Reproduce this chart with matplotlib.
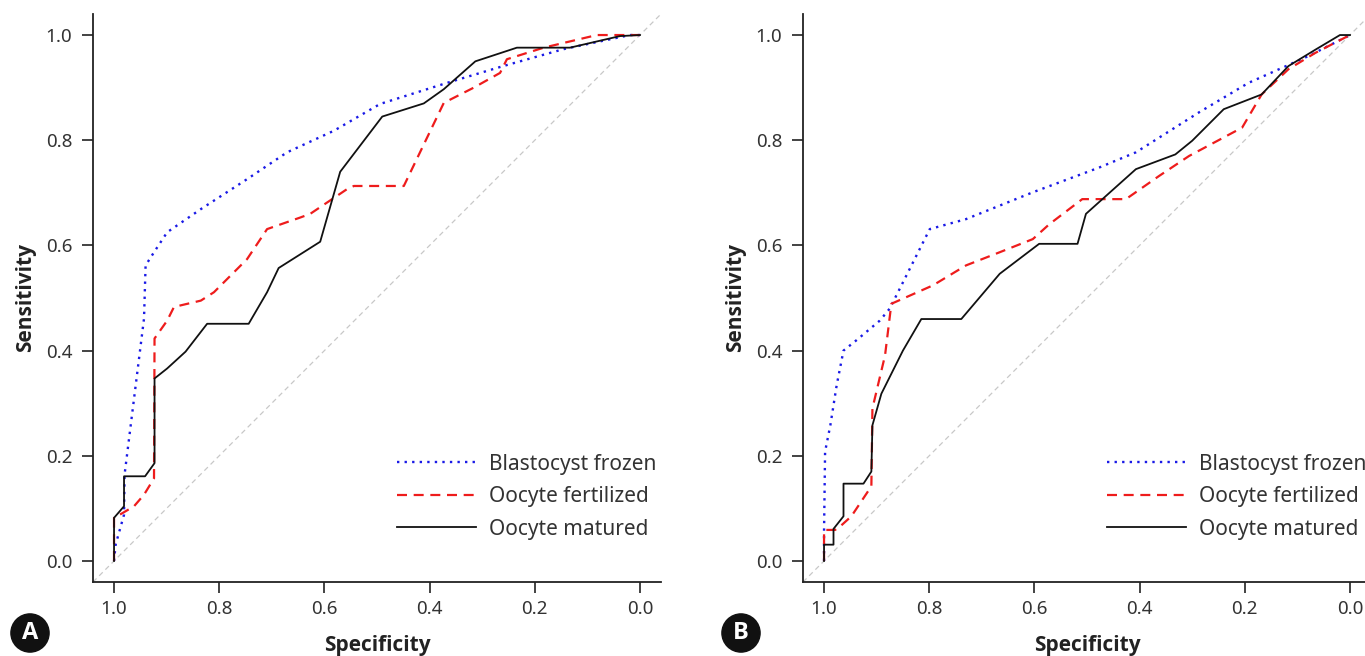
import matplotlib
matplotlib.use("Agg")
import matplotlib.pyplot as plt

plt.rcParams["font.family"] = ["Noto Sans", "DejaVu Sans"]

# ---- Panel A: ROC curves (specificity, sensitivity) ----
a_blast_spec = [1.0, 0.997, 0.981, 0.980, 0.943, 0.940, 0.924, 0.899, 0.835, 0.747,
                0.671, 0.582, 0.494, 0.367, 0.260, 0.146, 0.019, 0.0]
a_blast_sens = [0.0, 0.031, 0.088, 0.164, 0.461, 0.562, 0.587, 0.625, 0.669, 0.726,
                0.777, 0.818, 0.869, 0.909, 0.941, 0.973, 1.0, 1.0]

a_fert_spec = [1.0, 1.0, 0.984, 0.962, 0.943, 0.924, 0.923, 0.899, 0.886, 0.835, 0.810,
               0.747, 0.709, 0.646, 0.627, 0.557, 0.544, 0.449, 0.373, 0.316, 0.266,
               0.253, 0.183, 0.082, 0.0]
a_fert_sens = [0.0, 0.082, 0.091, 0.104, 0.126, 0.157, 0.423, 0.457, 0.483, 0.495, 0.511,
               0.574, 0.631, 0.653, 0.660, 0.707, 0.713, 0.713, 0.871, 0.900, 0.928,
               0.954, 0.976, 1.0, 1.0]

a_mat_spec = [1.0, 1.0, 0.981, 0.981, 0.941, 0.923, 0.923, 0.899, 0.864, 0.823, 0.744,
              0.709, 0.687, 0.608, 0.570, 0.490, 0.411, 0.373, 0.313, 0.234, 0.133,
              0.038, 0.0]
a_mat_sens = [0.0, 0.082, 0.104, 0.161, 0.161, 0.186, 0.347, 0.366, 0.398, 0.451, 0.451,
              0.511, 0.557, 0.607, 0.740, 0.845, 0.870, 0.897, 0.950, 0.976, 0.976,
              0.998, 1.0]

# ---- Panel B ----
b_blast_spec = [1.0, 1.0, 0.998, 0.988, 0.976, 0.963, 0.938, 0.894, 0.875, 0.799, 0.730,
                0.603, 0.477, 0.407, 0.287, 0.193, 0.079, 0.0]
b_blast_sens = [0.0, 0.056, 0.208, 0.258, 0.334, 0.400, 0.420, 0.457, 0.480, 0.631, 0.650,
                0.701, 0.748, 0.777, 0.853, 0.909, 0.960, 1.0]

b_fert_spec = [1.0, 1.0, 0.979, 0.969, 0.948, 0.910, 0.908, 0.884, 0.872, 0.793, 0.730,
               0.666, 0.603, 0.572, 0.509, 0.426, 0.363, 0.306, 0.205, 0.168, 0.117,
               0.066, 0.0]
b_fert_sens = [0.0, 0.059, 0.059, 0.066, 0.085, 0.142, 0.290, 0.391, 0.489, 0.524, 0.562,
               0.587, 0.612, 0.640, 0.688, 0.688, 0.732, 0.770, 0.824, 0.887, 0.935,
               0.966, 1.0]

b_mat_spec = [1.0, 1.0, 0.982, 0.982, 0.963, 0.963, 0.925, 0.910, 0.908, 0.891, 0.850,
              0.815, 0.739, 0.666, 0.591, 0.518, 0.502, 0.407, 0.332, 0.300, 0.240,
              0.168, 0.117, 0.066, 0.019, 0.0]
b_mat_sens = [0.0, 0.031, 0.031, 0.061, 0.085, 0.147, 0.147, 0.170, 0.258, 0.318, 0.400,
              0.460, 0.460, 0.546, 0.603, 0.603, 0.660, 0.745, 0.773, 0.799, 0.859,
              0.887, 0.941, 0.972, 1.0, 1.0]

labels = ["Blastocyst frozen", "Oocyte fertilized", "Oocyte matured"]
ticks = [0.0, 0.2, 0.4, 0.6, 0.8, 1.0]
tick_labels = ["0.0", "0.2", "0.4", "0.6", "0.8", "1.0"]

W, H = 1365, 656
fig = plt.figure(figsize=(W / 100, H / 100), dpi=100)

bold_font = ["Open Sans", "DejaVu Sans"]


def draw_panel(ax, curves, letter, letter_x):

    ax.plot([1.04, -0.04], [-0.04, 1.04], color="#c8c8c8",
            linestyle=(0, (4, 3)), linewidth=0.9, zorder=1)

    styles = [
        dict(color="#1a1ae6", linestyle=(0, (1, 2.2)), linewidth=1.7),
        dict(color="#ee1c1c", linestyle=(0, (4.5, 3)), linewidth=1.6),
        dict(color="#111111", linestyle="-", linewidth=1.3),
    ]

    handles = []
    for (xs, ys), st, lab in zip(curves, styles, labels):
        h, = ax.plot(xs, ys, label=lab, zorder=3, **st)
        handles.append(h)

    ax.set_xlim(1.04, -0.04)
    ax.set_ylim(-0.04, 1.04)

    ax.set_xticks(ticks)
    ax.set_xticklabels(tick_labels)
    ax.set_yticks(ticks)
    ax.set_yticklabels(tick_labels)

    for s in ["top", "right"]:
        ax.spines[s].set_visible(False)
    for s in ["left", "bottom"]:
        ax.spines[s].set_linewidth(1.3)
        ax.spines[s].set_color("#222222")

    ax.tick_params(axis="both", direction="out", length=8, width=1.2,
                   colors="#222222", labelsize=13.5, labelcolor="#333333")
    ax.tick_params(axis="y", pad=7)
    ax.tick_params(axis="x", pad=5)

    ax.set_xlabel("Specificity", fontsize=15, fontweight="bold",
                  family=bold_font, color="#222222", labelpad=12)
    ax.set_ylabel("Sensitivity", fontsize=15, fontweight="bold",
                  family=bold_font, color="#222222", labelpad=7)

    ax.legend(
        handles=handles,
        loc="upper left",
        bbox_to_anchor=(0.535, 0.226),
        frameon=False,
        fontsize=15,
        handlelength=3.8,
        handletextpad=0.6,
        labelspacing=0.55,
        borderpad=0,
        borderaxespad=0,
        labelcolor="#333333",
    )

    fig.text(letter_x, 1 - 633 / H, letter, color="white", fontsize=17,
             fontweight="bold", family=bold_font, ha="center", va="center",
             bbox=dict(boxstyle="circle,pad=0.3", fc="#111111", ec="#111111"))


ax_a = fig.add_axes([93 / W, 74 / H, 568 / W, 568 / H])
draw_panel(ax_a,
           [(a_blast_spec, a_blast_sens), (a_fert_spec, a_fert_sens),
            (a_mat_spec, a_mat_sens)],
           "A", 30 / W)

ax_b = fig.add_axes([803 / W, 74 / H, 568 / W, 568 / H])
draw_panel(ax_b,
           [(b_blast_spec, b_blast_sens), (b_fert_spec, b_fert_sens),
            (b_mat_spec, b_mat_sens)],
           "B", 741 / W)

fig.savefig("out.png", dpi=100)
